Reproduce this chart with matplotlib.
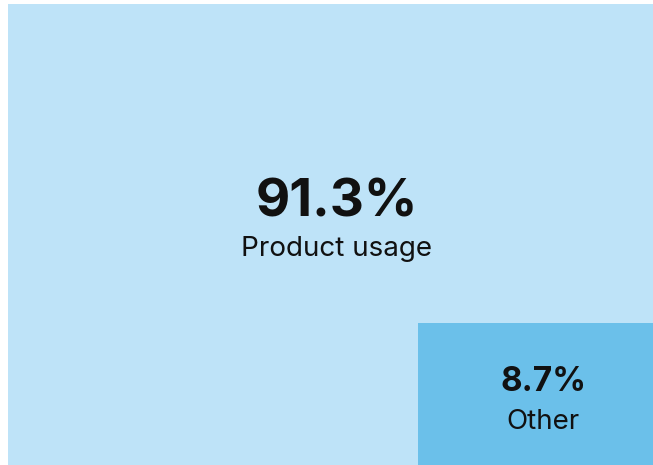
import matplotlib.pyplot as plt
from matplotlib.patches import Rectangle

# Data
labels = ['Product usage', 'Other']
shares = [91.3, 8.7]
colors = ['#BEE3F8', '#6BC0EA']

# layout of the blocks in pixel units (x0, y0, x1, y1)
boxes = [(8, 4, 665, 465), (418, 323, 668, 465)]
num_size = [38, 24]
lbl_size = [20, 20]
num_dy = [-37, -16]   # offset of the value from block centre
lbl_dy = [11, 25]     # offset of the label from block centre

fig = plt.figure(figsize=(6.53, 4.65), dpi=100)
ax = fig.add_axes([0, 0, 1, 1])
ax.set_xlim(0, 653)
ax.set_ylim(465, 0)
ax.axis('off')

for k in range(len(labels)):
    x0, y0, x1, y1 = boxes[k]
    ax.add_patch(Rectangle((x0, y0), x1 - x0, y1 - y0, facecolor=colors[k],
                           edgecolor='none'))
    cx = (x0 + x1) / 2
    cy = (y0 + y1) / 2
    ax.text(cx, cy + num_dy[k], '{:.1f}%'.format(shares[k]), ha='center',
            va='center_baseline', fontsize=num_size[k], fontweight='bold',
            family='Inter', color='#111111')
    ax.text(cx, cy + lbl_dy[k], labels[k], ha='center', va='center_baseline',
            fontsize=lbl_size[k], family='Inter', color='#111111')

fig.savefig('out.png', dpi=100)
